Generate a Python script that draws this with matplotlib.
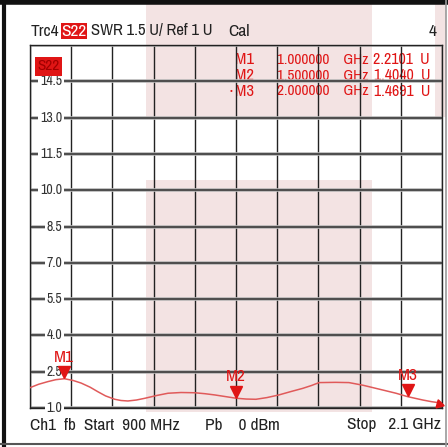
import matplotlib
matplotlib.use("Agg")
import matplotlib.pyplot as plt
from matplotlib.patches import Rectangle
from matplotlib.transforms import offset_copy, blended_transform_factory

plt.rcParams['font.family'] = ['Archivo Narrow', 'Liberation Sans', 'DejaVu Sans']

# trace (frequency in GHz, SWR in U)
freq = [0.900, 0.925, 0.952, 0.975, 1.000, 1.025, 1.049, 1.075, 1.098, 1.120, 1.147, 1.165,
        1.185, 1.210, 1.234, 1.270, 1.302, 1.340, 1.380, 1.410, 1.438, 1.470, 1.500, 1.530,
        1.558, 1.590, 1.625, 1.660, 1.694, 1.720, 1.742, 1.790, 1.829, 1.870, 1.908, 1.940,
        1.966, 2.000, 2.044, 2.070, 2.100]
swr = [1.84, 1.98, 2.09, 2.17, 2.21, 2.14, 2.03, 1.86, 1.67, 1.50, 1.36, 1.31,
       1.29, 1.33, 1.40, 1.52, 1.61, 1.64, 1.63, 1.59, 1.54, 1.47, 1.404, 1.37,
       1.36, 1.43, 1.54, 1.68, 1.81, 1.93, 2.05, 2.06, 2.05, 1.94, 1.81, 1.70,
       1.61, 1.469, 1.33, 1.26, 1.20]

markers = ['M1', 'M2', 'M3']
marker_freq = [1.0, 1.5, 2.0]
marker_val = [2.2101, 1.4040, 1.4691]
marker_freq_txt = ['1.000000    GHz', '1.500000    GHz', '2.000000    GHz']
marker_val_txt = ['2.2101  U', '1.4040  U', '1.4691  U']

yticks = [16.0, 14.5, 13.0, 11.5, 10.0, 8.5, 7.0, 5.5, 4.0, 2.5, 1.0]
ytick_labels = ['', '14.5', '13.0', '11.5', '10.0', '8.5', '7.0', '5.5', '4.0', '2.5', '1.0']
xticks = [0.9 + 0.12 * i for i in range(11)]

W, H = 448, 447
red = '#e01515'
trace_red = '#e05a5a'
pink = '#f3e3e3'
ink = '#222222'

fig = plt.figure(figsize=(W / 100, H / 100), dpi=100)
fig.patch.set_facecolor('white')


def px(x0, y0, x1, y1):
    # pixel box (top-left origin) -> figure fraction rect
    return (x0 / W, 1 - y1 / H, (x1 - x0) / W, (y1 - y0) / H)


def ftext(x, y, s, **kw):
    # text placed by pixel position from the top-left corner
    kw.setdefault('va', 'center')
    kw.setdefault('fontsize', 12.5)
    kw.setdefault('color', ink)
    return fig.text(x / W, 1 - y / H, s, **kw)


# pale pink background blocks
for box in [(146, 4, 372, 117), (146, 180, 372, 412), (435, 4, 446, 117)]:
    x, y, w, h = px(*box)
    fig.patches.append(Rectangle((x, y), w, h, transform=fig.transFigure,
                                 facecolor=pink, edgecolor='none', zorder=-5))

ax = fig.add_axes(px(30, 45, 442, 408))
ax.set_zorder(1)
ax.set_facecolor('none')
ax.set_xlim(0.9, 2.1)
ax.set_ylim(1, 16)
ax.set_xticks([])
ax.set_yticks([])
for s in ax.spines.values():
    s.set_color(ink)
    s.set_linewidth(1.0)

for xv in xticks:
    ax.axvline(xv, color=ink, lw=1.0, zorder=1)
for yv in yticks:
    ax.axhline(yv, color='#b5b5b5', lw=2.6, zorder=1)
    ax.axhline(yv, color='#303030', lw=1.1, zorder=1)

# y labels sitting on the grid lines
tr = blended_transform_factory(ax.transAxes, ax.transData)
for yv, lab in zip(yticks, ytick_labels):
    if lab:
        ax.text(0.078, yv, lab, transform=tr, ha='right', va='center', fontsize=10,
                color='#333333', zorder=3,
                bbox=dict(facecolor='white', edgecolor='none', pad=1.2))

# S22 tag inside the plot
ax.text(0.044, 15.12, 'S22', transform=tr, ha='center', va='center', fontsize=11,
        color='#a00000', zorder=3,
        bbox=dict(facecolor=red, edgecolor='none', pad=1.6))

# trace
ax.plot(freq, swr, color=trace_red, lw=1.1, zorder=4)

# markers
tri = offset_copy(ax.transData, fig=fig, x=0, y=4.5, units='points')
lab_tr = offset_copy(ax.transData, fig=fig, x=0, y=15.5, units='points')
for m, f, v in zip(markers, marker_freq, marker_val):
    ax.plot(f, v, marker='v', ms=8, color=red, transform=tri, zorder=5, clip_on=False)
    ax.text(f, v, m, transform=lab_tr, ha='center', va='center', fontsize=12.5,
            color=red, zorder=5)

# small out-of-range corner flag
ax.plot(2.1, 1.0, marker=(3, 0, 15), ms=7, color=red, transform=offset_copy(
    ax.transData, fig=fig, x=-2.5, y=3, units='points'), clip_on=False, zorder=5)

# marker table (drawn under the grid, like the screen)
ty = [60, 76, 91]
for i in range(3):
    ftext(235, ty[i], markers[i], fontsize=12, color=red, zorder=0.5)
    if i == 2:
        ftext(231, ty[i], '\u2022', ha='center', fontsize=7, color=red, zorder=0.5)
    ftext(277, ty[i], marker_freq_txt[i], fontsize=11, color=red, zorder=0.5)
    ftext(430, ty[i], marker_val_txt[i], ha='right', fontsize=11.5, color=red, zorder=0.5)

# header line
hy = 31
ftext(31, hy, 'Trc4')
ftext(74, hy, 'S22', ha='center', color='white',
      bbox=dict(facecolor=red, edgecolor='none', pad=0.6))
ftext(91, hy, 'SWR 1.5 U/ Ref 1 U', fontsize=12)
ftext(228, hy, 'Cal')
ftext(437, hy, '4', ha='right')

# footer line
fy = 425
ftext(30, fy, 'Ch1  fb  Start  900 MHz')
ftext(205, fy, 'Pb    0 dBm')
ftext(441, fy, 'Stop   2.1 GHz', ha='right')

# outer screen frame
fig.add_artist(plt.Line2D([4 / W, 4 / W], [0, 1], color='#111111', lw=3,
                          transform=fig.transFigure))
fig.add_artist(plt.Line2D([0, 1], [1 - 2 / H, 1 - 2 / H], color='#111111', lw=4,
                          transform=fig.transFigure))
fig.add_artist(plt.Line2D([0, 1], [1 - 444 / H, 1 - 444 / H], color='#555555', lw=1.5,
                          transform=fig.transFigure))
fig.add_artist(plt.Line2D([446 / W, 446 / W], [0, 1], color='#999999', lw=1.2,
                          transform=fig.transFigure))

fig.savefig('out.png', dpi=100)
